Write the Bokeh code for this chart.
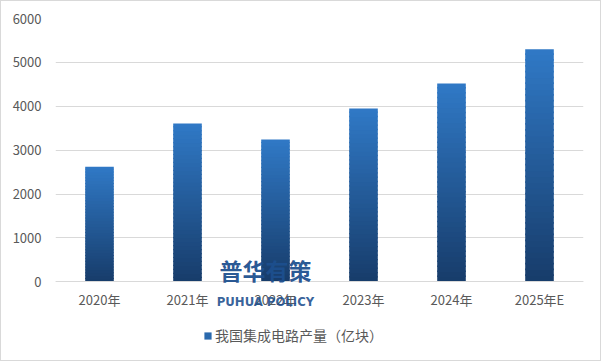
from bokeh.plotting import figure
from bokeh.models import (ColumnDataSource, Legend, LegendItem, FactorRange, Label,
                          Range1d, FixedTicker)
from bokeh.core.properties import value
from bokeh.embed import file_html
from bokeh.resources import INLINE

categories = ["2020年", "2021年", "2022年", "2023年", "2024年", "2025年E"]
values = [2625, 3610, 3245, 3950, 4520, 5300]
series_name = "我国集成电路产量（亿块）"
y_ticks = [0, 1000, 2000, 3000, 4000, 5000, 6000]

FONT = "Noto Sans CJK SC"
TXT = "#595959"

# frame covers 6000 units in 263 px, extended below 0 to hold labels/legend
p = figure(x_range=FactorRange(*categories), y_range=Range1d(-1450, 6000),
           frame_width=528, frame_height=327, output_backend="svg", toolbar_location=None,
           min_border_left=54, min_border_right=17, min_border_top=17, min_border_bottom=15)
p.outline_line_color = None
p.background_fill_color = "white"
p.border_fill_color = "white"
p.styles = {"border": "1px solid #d9d9d9"}

# gradient bars: stacked slices, top light -> bottom dark
top_c = (48, 121, 198)
bot_c = (23, 60, 106)
N = 40
xs, bs, ts, cs = [], [], [], []
for c, v in zip(categories, values):
    for k in range(N):
        f = (k + 0.5) / N
        col = tuple(int(round(bot_c[j] + (top_c[j] - bot_c[j]) * f)) for j in range(3))
        xs.append(c)
        bs.append(v * k / N)
        ts.append(v * (k + 1) / N + (v / N * 0.3 if k < N - 1 else 0))
        cs.append("#%02x%02x%02x" % col)
src = ColumnDataSource(dict(x=xs, bottom=bs, top=ts, color=cs))
p.vbar(x="x", bottom="bottom", top="top", width=0.325, fill_color="color", line_color=None, source=src)

# legend proxy
proxy = p.vbar(x=[categories[0]], top=[0], bottom=[0], width=0.01, fill_color="#2a69ad", line_color=None)

legend = Legend(items=[LegendItem(label=series_name, renderers=[proxy])],
                orientation="horizontal", location=(148, 0),
                label_text_font=FONT, label_text_font_size="14px", label_text_color=TXT,
                glyph_width=9, glyph_height=9, label_standoff=3, label_height=14,
                border_line_color=None, background_fill_alpha=0, padding=2, margin=0)
p.add_layout(legend)

# axes
p.yaxis.ticker = FixedTicker(ticks=y_ticks)
p.yaxis.axis_line_color = None
p.yaxis.major_tick_line_color = None
p.yaxis.major_tick_out = 0
p.yaxis.major_tick_in = 0
p.yaxis.minor_tick_line_color = None
p.yaxis.major_label_text_font = FONT
p.yaxis.major_label_text_font_size = "13px"
p.yaxis.major_label_text_color = TXT
p.yaxis.major_label_standoff = 14

p.xaxis.fixed_location = 0
p.xaxis.axis_line_color = "#d9d9d9"
p.xaxis.major_tick_line_color = None
p.xaxis.major_tick_out = 0
p.xaxis.major_tick_in = 0
p.xaxis.minor_tick_line_color = None
p.xaxis.major_label_text_font = FONT
p.xaxis.major_label_text_font_size = "13px"
p.xaxis.major_label_text_color = TXT
p.xaxis.major_label_standoff = 8

p.xgrid.grid_line_color = None
p.ygrid.grid_line_color = "#d9d9d9"
p.ygrid.ticker = FixedTicker(ticks=y_ticks)

# watermark
p.add_layout(Label(x=210, y=59, x_units="screen", y_units="screen", text="普华有策",
                   text_font=FONT, text_font_size="23px", text_font_style="bold",
                   text_color="#1d4f8e", text_align="center", text_baseline="bottom", text_alpha=0.95))
p.add_layout(Label(x=210, y=37, x_units="screen", y_units="screen", text="PUHUA POLICY",
                   text_font="DejaVu Sans Condensed, Roboto", text_font_size="13px", text_font_style="bold",
                   text_color="#1d4f8e", text_align="center", text_baseline="bottom", text_alpha=0.9))

open("out.html", "w").write(file_html(p, INLINE))
